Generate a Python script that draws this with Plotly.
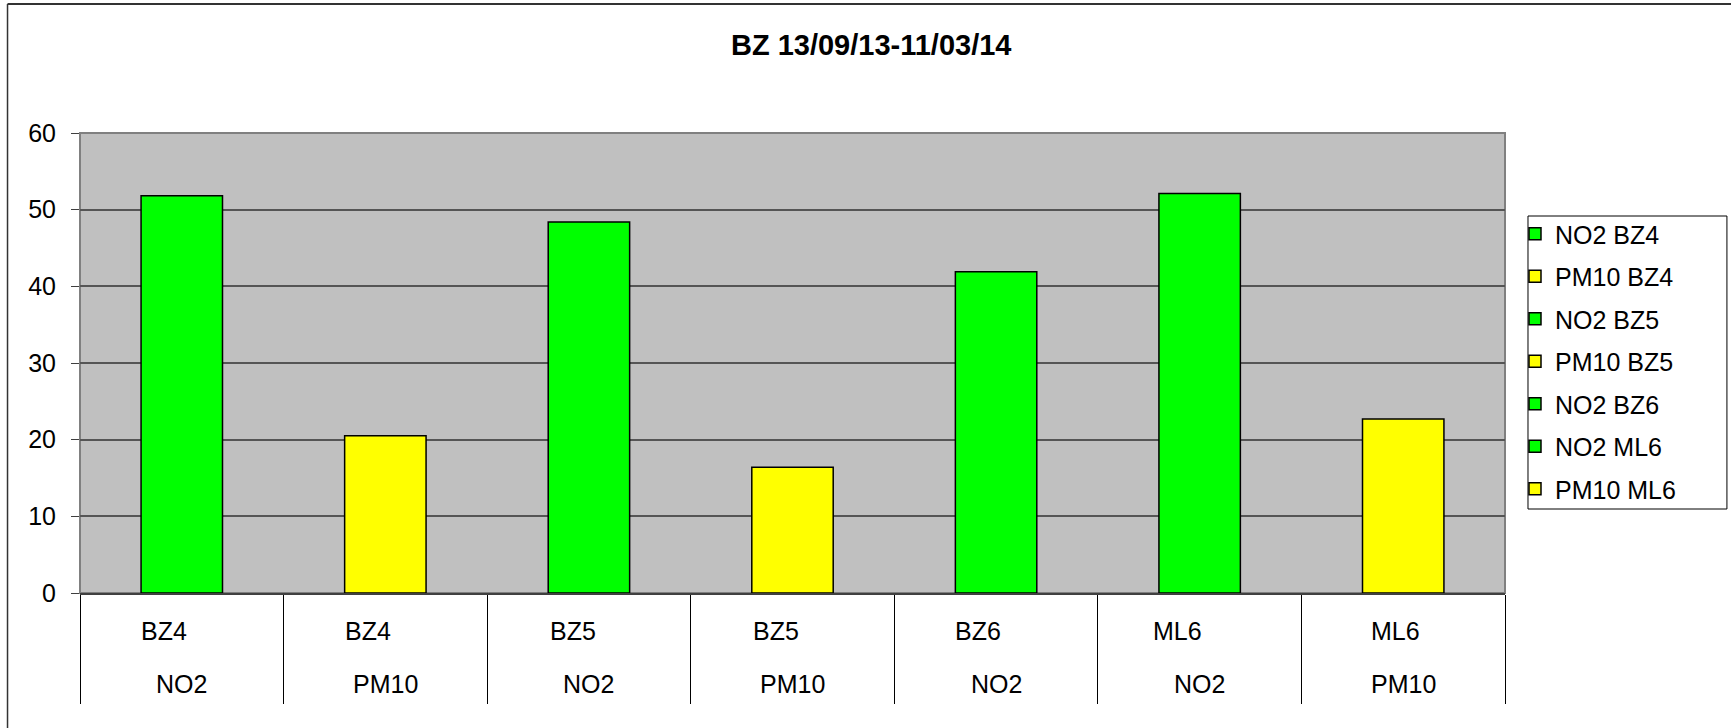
import plotly.graph_objects as go

# data
stations = ["BZ4", "BZ4", "BZ5", "BZ5", "BZ6", "ML6", "ML6"]
pollutants = ["NO2", "PM10", "NO2", "PM10", "NO2", "NO2", "PM10"]
values = [51.8, 20.5, 48.4, 16.4, 41.9, 52.1, 22.7]
y_ticks = [0, 10, 20, 30, 40, 50, 60]
title_text = "BZ 13/09/13-11/03/14"

colors = {"NO2": "#00FF00", "PM10": "#FFFF00"}
FONT = "Liberation Sans, Arial, sans-serif"

# layout in pixels
W, H = 1731, 728
L, R, T, B = 79.5, 1505, 133, 593


def px_x(p):
    return (p - L) / (R - L)


def px_y(p):
    return (B - p) / (B - T)


fig = go.Figure()

for i, (st, pol, v) in enumerate(zip(stations, pollutants, values)):
    fig.add_trace(go.Bar(
        x=[i],
        y=[v],
        name=f"{pol} {st}",
        legendgroup=str(i),
        width=0.4,
        marker=dict(color=colors[pol], line=dict(color="black", width=1.5)),
    ))

# category labels under the axis (station on top, pollutant below)
station_shift = [-0.085, -0.085, -0.08, -0.08, -0.09, -0.11, -0.04]
for i, (st, pol) in enumerate(zip(stations, pollutants)):
    fig.add_annotation(x=i + station_shift[i], y=px_y(631), xref="x", yref="paper",
                       text=st, showarrow=False, yanchor="middle",
                       font=dict(family=FONT, size=25, color="black"))
    fig.add_annotation(x=i, y=px_y(684), xref="x", yref="paper",
                       text=pol, showarrow=False, yanchor="middle",
                       font=dict(family=FONT, size=25, color="black"))

# plot area frame, legend box and the outer chart frame (cropped on right / bottom)
fig.add_shape(type="rect", xref="paper", yref="paper", x0=0, x1=1, y0=0, y1=1,
              line=dict(color="#808080", width=2), layer="below")
fig.add_shape(type="rect", xref="paper", yref="paper",
              x0=px_x(1528), x1=px_x(1727), y0=px_y(216), y1=px_y(509),
              line=dict(color="black", width=1), fillcolor="white", layer="below")
fig.add_shape(type="line", xref="paper", yref="paper",
              x0=px_x(7), x1=px_x(W + 5), y0=px_y(4), y1=px_y(4),
              line=dict(color="#333333", width=2))
fig.add_shape(type="line", xref="paper", yref="paper",
              x0=px_x(7), x1=px_x(7), y0=px_y(4), y1=px_y(H + 5),
              line=dict(color="#333333", width=1.5))

fig.update_layout(
    width=W,
    height=H,
    margin=dict(l=L, r=W - R, t=T, b=H - B, pad=0),
    paper_bgcolor="white",
    plot_bgcolor="#C0C0C0",
    barmode="overlay",
    showlegend=True,
    title=dict(text=f"<b>{title_text}</b>", x=px_x(871), xref="paper", xanchor="center",
               y=1 - 45 / H, yanchor="middle",
               font=dict(family=FONT, size=29, color="black")),
    font=dict(family=FONT, color="black"),
    legend=dict(
        x=px_x(1515), y=px_y(211), xanchor="left", yanchor="top",
        bgcolor="rgba(0,0,0,0)", borderwidth=0,
        font=dict(family=FONT, size=25, color="black"),
        traceorder="grouped", tracegroupgap=7,
        itemwidth=30,
    ),
    xaxis=dict(
        range=[-0.5, len(values) - 0.5],
        tickvals=[i - 0.5 for i in range(len(values) + 1)],
        showticklabels=False,
        ticks="outside", ticklen=109, tickcolor="black", tickwidth=1,
        showgrid=False, zeroline=False,
        showline=True, linecolor="#404040", linewidth=2,
        fixedrange=True,
    ),
    yaxis=dict(
        range=[0, 60],
        tickvals=y_ticks,
        ticks="outside", ticklen=8, tickcolor="#404040", tickwidth=1,
        ticklabelstandoff=10,
        tickfont=dict(family=FONT, size=25, color="black"),
        showgrid=True, gridcolor="#555555", gridwidth=1.5,
        zeroline=False,
        showline=False,
        fixedrange=True,
    ),
)

# the page would otherwise keep the browser's default 8px body margin
fig.write_html("out.html", config={"displayModeBar": False},
               post_script="document.body.style.margin = '0px';")
